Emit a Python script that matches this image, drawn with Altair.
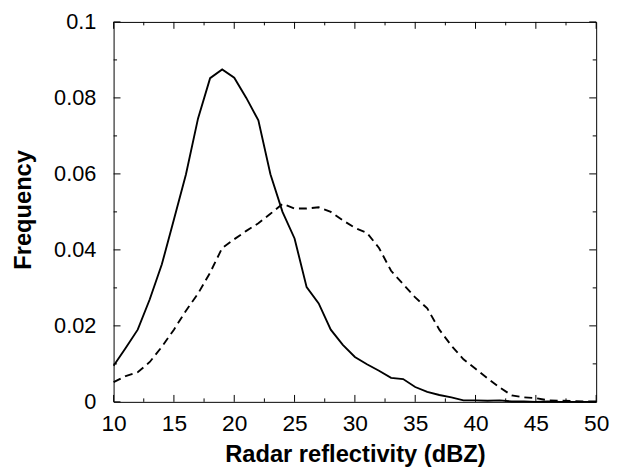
import altair as alt
import pandas as pd

# Data
dbz = list(range(10, 51))
solid = [0.0095, 0.0142, 0.019, 0.027, 0.0362, 0.048, 0.0599, 0.0746, 0.0852, 0.0875,
         0.0853, 0.080, 0.0741, 0.0599, 0.050, 0.043, 0.0302, 0.0259, 0.019, 0.015,
         0.0118, 0.0099, 0.0082, 0.0063, 0.006, 0.0039, 0.0026, 0.0018, 0.0012, 0.0004,
         0.0004, 0.0003, 0.0004, 0.0001, 0.0001, 0.0, 0.0001, 0.0, 0.0, 0.0, 0.0]
dashed = [0.0052, 0.0068, 0.0078, 0.0105, 0.0145, 0.019, 0.024, 0.0285, 0.034, 0.0405,
          0.0428, 0.045, 0.047, 0.0495, 0.0521, 0.0509, 0.0509, 0.0512, 0.0500, 0.0478,
          0.0458, 0.0445, 0.0405, 0.0345, 0.031, 0.0275, 0.0246, 0.019, 0.0148, 0.0112,
          0.0087, 0.0062, 0.0038, 0.0017, 0.0012, 0.0010, 0.0004, 0.0003, 0.0002, 0.0001, 0.0001]

x_major = [10, 15, 20, 25, 30, 35, 40, 45, 50]
x_minor = [12.5, 17.5, 22.5, 27.5, 32.5, 37.5, 42.5, 47.5]
y_major = [0, 0.02, 0.04, 0.06, 0.08, 0.1]
y_minor = [0.01, 0.03, 0.05, 0.07, 0.09]

W, H = 489, 385
FONT = "Liberation Sans"

df = pd.DataFrame({"dbz": dbz, "solid": solid, "dashed": dashed})

xscale = alt.Scale(domain=[10, 50], nice=False, zero=False)
yscale = alt.Scale(domain=[0, 0.1], nice=False, zero=False)

xaxis = alt.Axis(values=x_major, format="d", grid=False, domain=False, ticks=False,
                 labelFont=FONT, labelFontSize=23, labelColor="black", labelPadding=11,
                 labelFlush=False,
                 title="Radar reflectivity (dBZ)", titleFont=FONT, titleFontSize=24,
                 titleFontWeight="bold", titleColor="black", titleBaseline="alphabetic",
                 titleY=60)
yaxis = alt.Axis(values=y_major, format="~g", grid=False, domain=False, ticks=False,
                 labelFont=FONT, labelFontSize=22, labelColor="black", labelPadding=18,
                 labelFlush=False,
                 title="Frequency", titleFont=FONT, titleFontSize=24, titleFontWeight="bold",
                 titleColor="black", titleBaseline="alphabetic", titleX=-84, titleY=190)

base = alt.Chart(df)
line_solid = base.mark_line(color="black", strokeWidth=1.9).encode(
    x=alt.X("dbz:Q", scale=xscale, axis=xaxis),
    y=alt.Y("solid:Q", scale=yscale, axis=yaxis),
)
line_dashed = base.mark_line(color="black", strokeWidth=1.9, strokeDash=[8, 5]).encode(
    x=alt.X("dbz:Q", scale=xscale, axis=xaxis),
    y=alt.Y("dashed:Q", scale=yscale, axis=yaxis),
)

def xticks(vals, length):
    d = pd.DataFrame({"v": vals})
    bot = alt.Chart(d).mark_rule(color="black", strokeWidth=1).encode(
        x=alt.X("v:Q", scale=xscale, axis=xaxis),
        y=alt.value(H), y2=alt.value(H - length))
    top = alt.Chart(d).mark_rule(color="black", strokeWidth=1).encode(
        x=alt.X("v:Q", scale=xscale, axis=xaxis),
        y=alt.value(0), y2=alt.value(length))
    return [bot, top]

def yticks(vals, length):
    d = pd.DataFrame({"v": vals})
    left = alt.Chart(d).mark_rule(color="black", strokeWidth=1).encode(
        y=alt.Y("v:Q", scale=yscale, axis=yaxis),
        x=alt.value(0), x2=alt.value(length))
    right = alt.Chart(d).mark_rule(color="black", strokeWidth=1).encode(
        y=alt.Y("v:Q", scale=yscale, axis=yaxis),
        x=alt.value(W), x2=alt.value(W - length))
    return [left, right]

layers = [line_solid, line_dashed] + xticks(x_major, 7) + xticks(x_minor, 3.5) \
    + yticks(y_major, 7) + yticks(y_minor, 3.5)

chart = alt.layer(*layers).properties(
    width=W, height=H,
    autosize=alt.AutoSizeParams(type="none"),
    padding={"left": 107, "top": 11, "right": 13, "bottom": 70},
    background="white",
).configure_view(stroke="black", strokeWidth=1)

chart.save("out.html", embed_options={"renderer": "svg", "actions": False})
